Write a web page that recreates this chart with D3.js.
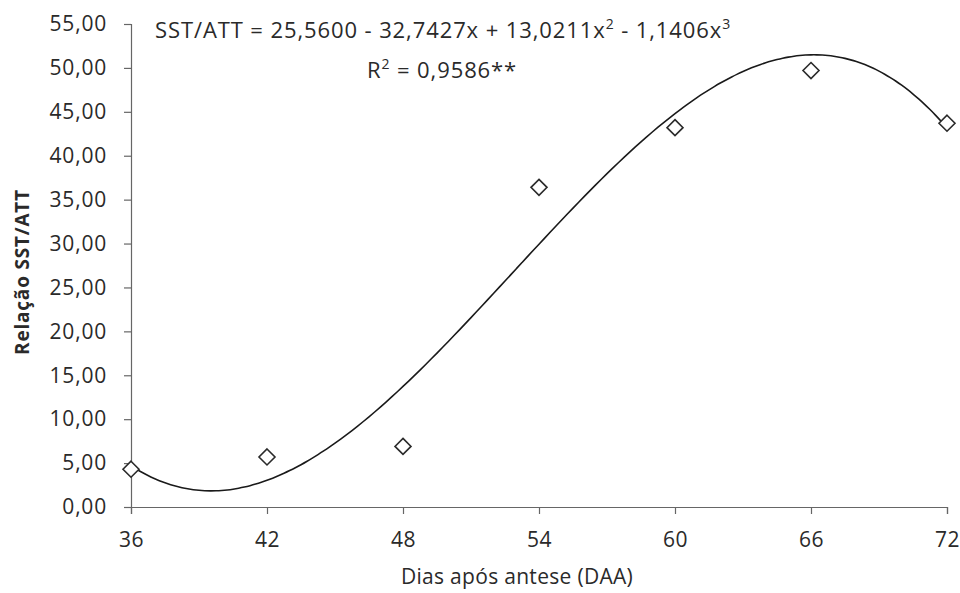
<!DOCTYPE html>
<html>
<head>
<meta charset="utf-8">
<script src="https://cdn.jsdelivr.net/npm/d3@7"></script>
<style>
  body { margin: 0; background: #fff; }
  svg text { font-family: "Open Sans", "DejaVu Sans", sans-serif; fill: #2a2a2a; }
</style>
</head>
<body>
<svg id="chart" width="960" height="593"></svg>
<script>
// observed points (days after anthesis)
const days = [36, 42, 48, 54, 60, 66, 72];
const ratio = [4.3, 5.7, 6.9, 36.4, 43.2, 49.7, 43.7];
// trendline coefficients, as printed on the chart (x = sampling index 1..7)
const coefs = [25.5600, -32.7427, 13.0211, -1.1406];
const xTicks = [36, 42, 48, 54, 60, 66, 72];
const yTicks = [0, 5, 10, 15, 20, 25, 30, 35, 40, 45, 50, 55];

const svg = d3.select("#chart");
const fmt = d => d3.format(".2f")(d).replace(".", ",");

const x = d3.scaleLinear().domain([36, 72]).range([131, 947]);
const y = d3.scaleLinear().domain([0, 55]).range([507, 24]);

// y axis
const gy = svg.append("g")
    .attr("transform", "translate(131,0)")
    .call(d3.axisLeft(y).tickValues(yTicks).tickFormat(fmt).tickSize(7).tickSizeOuter(7).tickPadding(17));
gy.selectAll("text").style("font-size", "21px").style("letter-spacing", "0.8px").attr("fill", "#2a2a2a");

// x axis
const gx = svg.append("g")
    .attr("transform", "translate(0,507)")
    .call(d3.axisBottom(x).tickValues(xTicks).tickSize(7).tickSizeOuter(7).tickPadding(18));
gx.selectAll("text").style("font-size", "21px").style("letter-spacing", "0.5px").attr("fill", "#2a2a2a");

svg.selectAll(".domain, .tick line").attr("stroke", "#666").attr("stroke-width", 1.2);

// trendline
const poly = d => {
    const t = (d - 30) / 6;
    return coefs[0] + coefs[1] * t + coefs[2] * t * t + coefs[3] * t * t * t;
};
const curveX = d3.range(36, 72.01, 0.25);
svg.append("path")
    .datum(curveX)
    .attr("fill", "none")
    .attr("stroke", "#1a1a1a")
    .attr("stroke-width", 1.6)
    .attr("d", d3.line().x(d => x(d)).y(d => y(poly(d))).curve(d3.curveBasis));

// points
svg.selectAll(".pt")
    .data(days)
    .enter().append("path")
    .attr("class", "pt")
    .attr("transform", (d, i) => `translate(${x(d)},${y(ratio[i])})`)
    .attr("d", "M0,-8L8,0L0,8L-8,0Z")
    .attr("fill", "#fff")
    .attr("stroke", "#2a2a2a")
    .attr("stroke-width", 1.6);

// equation
const eq = svg.append("text")
    .attr("x", 155).attr("y", 38)
    .style("font-size", "22px")
    .style("letter-spacing", "0.9px");
eq.append("tspan").text("SST/ATT = 25,5600 - 32,7427x + 13,0211x");
eq.append("tspan").attr("dy", -9).style("font-size", "14px").text("2");
eq.append("tspan").attr("dy", 9).text(" - 1,1406x");
eq.append("tspan").attr("dy", -9).style("font-size", "14px").text("3");

const r2 = svg.append("text")
    .attr("x", 367).attr("y", 78)
    .style("font-size", "22px")
    .style("letter-spacing", "0.9px");
r2.append("tspan").text("R");
r2.append("tspan").attr("dy", -9).style("font-size", "14px").text("2");
r2.append("tspan").attr("dy", 9).text(" = 0,9586**");

// axis titles
svg.append("text")
    .attr("x", 517).attr("y", 584)
    .attr("text-anchor", "middle")
    .style("font-size", "21px")
    .style("letter-spacing", "0.3px")
    .text("Dias após antese (DAA)");

svg.append("text")
    .attr("transform", "translate(29,272) rotate(-90)")
    .attr("text-anchor", "middle")
    .style("font-size", "19px")
    .style("font-weight", "bold")
    .style("letter-spacing", "0.8px")
    .text("Relação SST/ATT");
</script>
</body>
</html>
